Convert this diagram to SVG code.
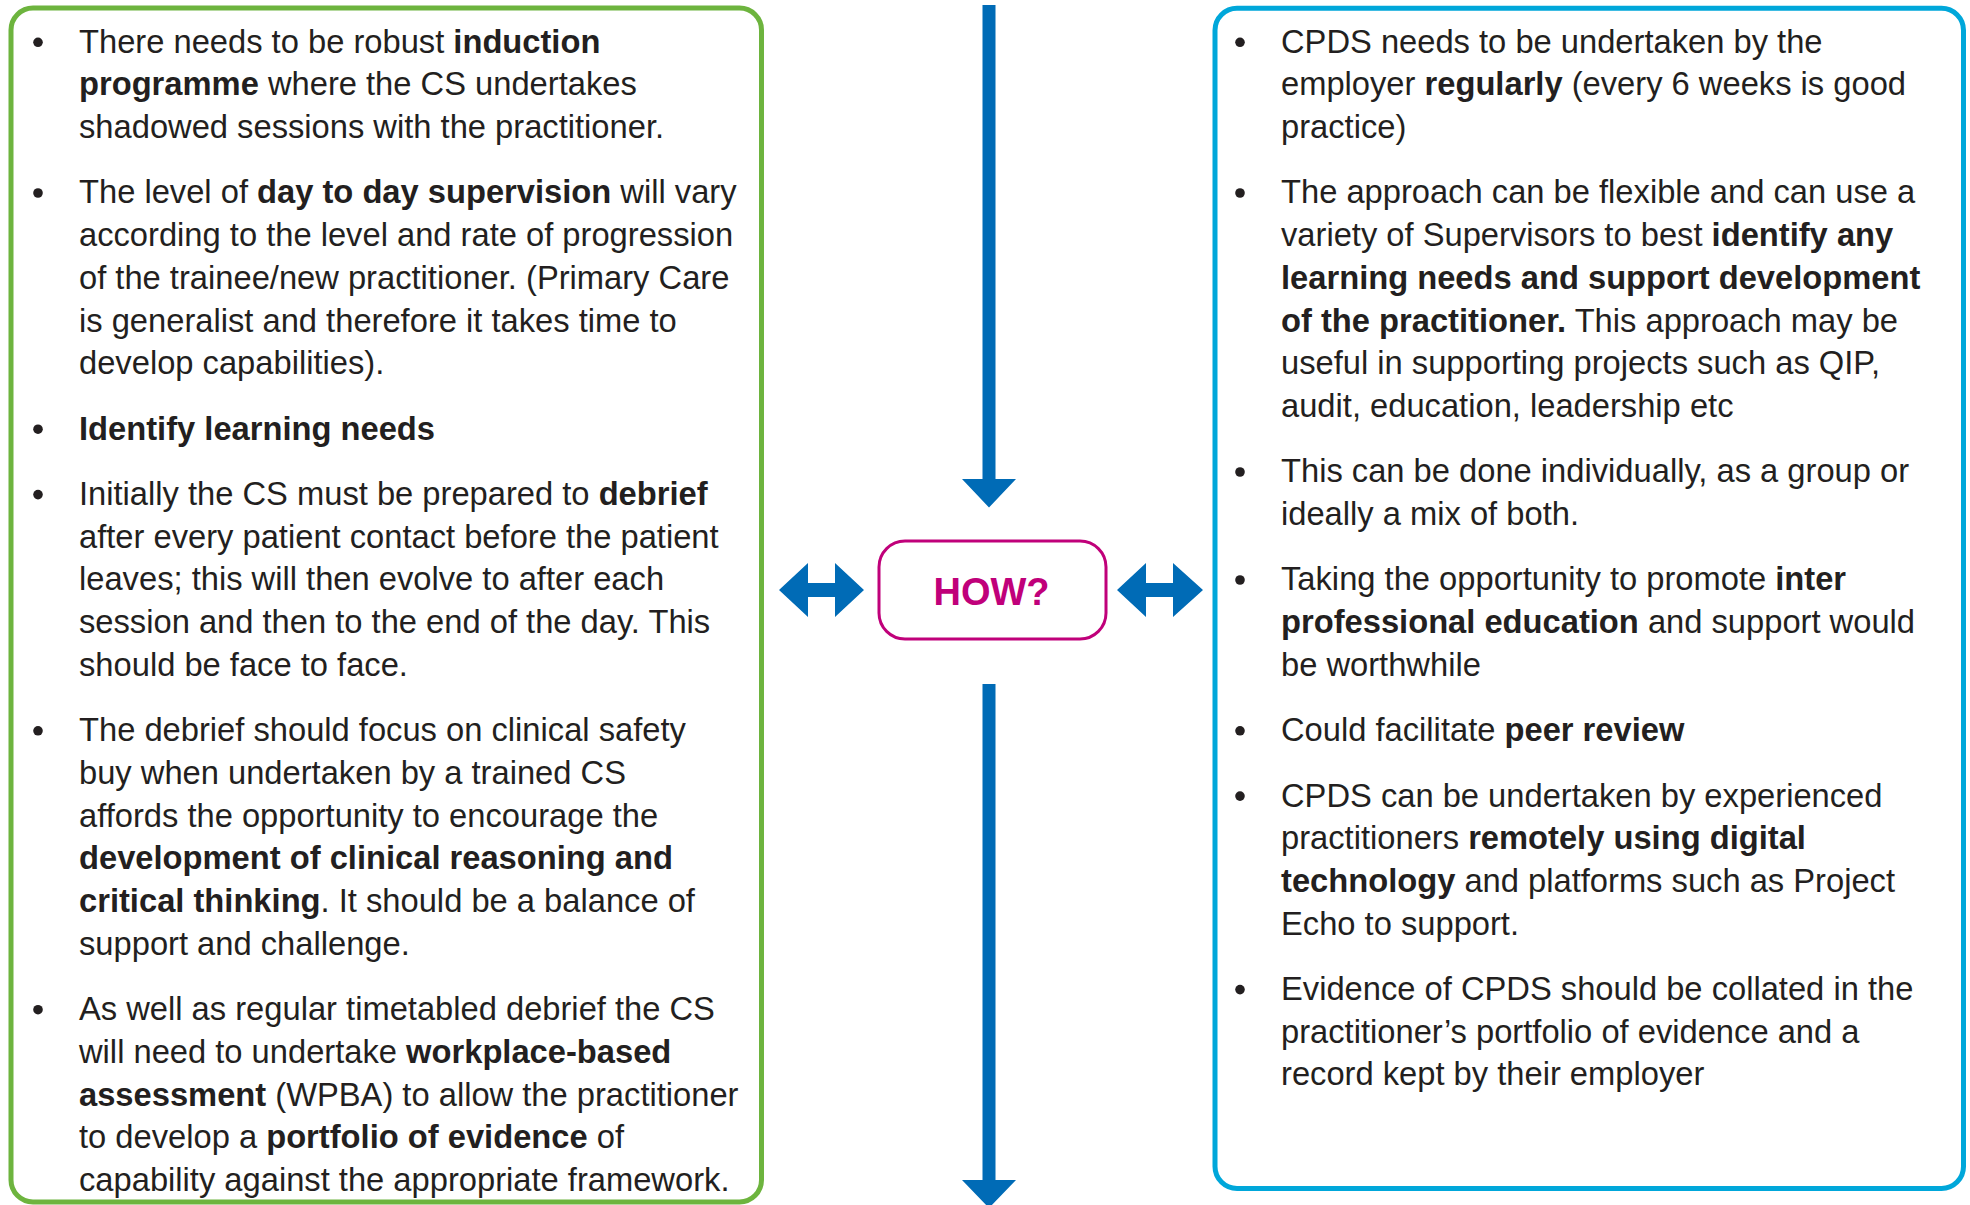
<svg xmlns="http://www.w3.org/2000/svg" width="1970" height="1205" viewBox="0 0 1970 1205">
<style>
.t{font-family:"Liberation Sans",Arial,sans-serif;font-size:32.7px;fill:#231F20}
.b{font-weight:bold}
.bul{fill:#231F20}
.arrow{fill:#006BB6}
</style>
<rect width="1970" height="1205" fill="#ffffff"/>
<g id="connectors">
<polygon class="arrow" points="982.5,5 995.5,5 995.5,479 1016,479 989,507.5 962,479 982.5,479"/>
<polygon class="arrow" points="982.5,684 995.5,684 995.5,1180 1016,1180 989,1208 962,1180 982.5,1180"/>
<polygon class="arrow" points="779,590 808,563 808,583 835,583 835,563 864,590 835,617 835,597 808,597 808,617"/>
<polygon class="arrow" points="1117,590 1146,563 1146,583 1173,583 1173,563 1203,590 1173,617 1173,597 1146,597 1146,617"/>
</g>
<g id="how">
<rect x="879" y="541" width="227" height="98" rx="26" fill="#ffffff" stroke="#C0007A" stroke-width="3"/>
<text x="991.5" y="604.5" text-anchor="middle" style="font-family:'Liberation Sans',Arial,sans-serif;font-size:38px;font-weight:bold;fill:#C0007A">HOW?</text>
</g>
<g id="left-box">
<rect x="11" y="8" width="750.5" height="1194" rx="22" fill="none" stroke="#6DB43E" stroke-width="5"/>
<g class="bul">
<circle cx="38" cy="42.3" r="4.8"/>
<circle cx="38" cy="193" r="4.8"/>
<circle cx="38" cy="429.2" r="4.8"/>
<circle cx="38" cy="494.6" r="4.8"/>
<circle cx="38" cy="730.8" r="4.8"/>
<circle cx="38" cy="1009.7" r="4.8"/>
</g>
<text class="t" x="79" y="52.7">There needs to be robust <tspan class="b">induction</tspan></text>
<text class="t" x="79" y="95.4"><tspan class="b">programme</tspan> where the CS undertakes</text>
<text class="t" x="79" y="138.1">shadowed sessions with the practitioner.</text>
<text class="t" x="79" y="203.4">The level of <tspan class="b">day to day supervision</tspan> will vary</text>
<text class="t" x="79" y="246.1">according to the level and rate of progression</text>
<text class="t" x="79" y="288.8">of the trainee/new practitioner. (Primary Care</text>
<text class="t" x="79" y="331.6">is generalist and therefore it takes time to</text>
<text class="t" x="79" y="374.3">develop capabilities).</text>
<text class="t b" x="79" y="439.6">Identify learning needs</text>
<text class="t" x="79" y="505">Initially the CS must be prepared to <tspan class="b">debrief</tspan></text>
<text class="t" x="79" y="547.7">after every patient contact before the patient</text>
<text class="t" x="79" y="590.4">leaves; this will then evolve to after each</text>
<text class="t" x="79" y="633.1">session and then to the end of the day. This</text>
<text class="t" x="79" y="675.9">should be face to face.</text>
<text class="t" x="79" y="741.2">The debrief should focus on clinical safety</text>
<text class="t" x="79" y="783.9">buy when undertaken by a trained CS</text>
<text class="t" x="79" y="826.6">affords the opportunity to encourage the</text>
<text class="t b" x="79" y="869.4">development of clinical reasoning and</text>
<text class="t" x="79" y="912.1"><tspan class="b">critical thinking</tspan>. It should be a balance of</text>
<text class="t" x="79" y="954.8">support and challenge.</text>
<text class="t" x="79" y="1020.1">As well as regular timetabled debrief the CS</text>
<text class="t" x="79" y="1062.8">will need to undertake <tspan class="b">workplace-based</tspan></text>
<text class="t" x="79" y="1105.5"><tspan class="b">assessment</tspan> (WPBA) to allow the practitioner</text>
<text class="t" x="79" y="1148.3">to develop a <tspan class="b">portfolio of evidence</tspan> of</text>
<text class="t" x="79" y="1191">capability against the appropriate framework.</text>
</g>
<g id="right-box">
<rect x="1215" y="8.3" width="748.5" height="1180.2" rx="22" fill="none" stroke="#00A7DA" stroke-width="5"/>
<g class="bul">
<circle cx="1240" cy="42.3" r="4.8"/>
<circle cx="1240" cy="193" r="4.8"/>
<circle cx="1240" cy="472" r="4.8"/>
<circle cx="1240" cy="580" r="4.8"/>
<circle cx="1240" cy="730.8" r="4.8"/>
<circle cx="1240" cy="796.1" r="4.8"/>
<circle cx="1240" cy="989.6" r="4.8"/>
</g>
<text class="t" x="1281" y="52.7">CPDS needs to be undertaken by the</text>
<text class="t" x="1281" y="95.4">employer <tspan class="b">regularly</tspan> (every 6 weeks is good</text>
<text class="t" x="1281" y="138.1">practice)</text>
<text class="t" x="1281" y="203.4">The approach can be flexible and can use a</text>
<text class="t" x="1281" y="246.1">variety of Supervisors to best <tspan class="b">identify any</tspan></text>
<text class="t b" x="1281" y="288.8">learning needs and support development</text>
<text class="t" x="1281" y="331.6"><tspan class="b">of the practitioner.</tspan> This approach may be</text>
<text class="t" x="1281" y="374.3">useful in supporting projects such as QIP,</text>
<text class="t" x="1281" y="417">audit, education, leadership etc</text>
<text class="t" x="1281" y="482.4">This can be done individually, as a group or</text>
<text class="t" x="1281" y="525.1">ideally a mix of both.</text>
<text class="t" x="1281" y="590.4">Taking the opportunity to promote <tspan class="b">inter</tspan></text>
<text class="t" x="1281" y="633.1"><tspan class="b">professional education</tspan> and support would</text>
<text class="t" x="1281" y="675.9">be worthwhile</text>
<text class="t" x="1281" y="741.2">Could facilitate <tspan class="b">peer review</tspan></text>
<text class="t" x="1281" y="806.5">CPDS can be undertaken by experienced</text>
<text class="t" x="1281" y="849.2">practitioners <tspan class="b">remotely using digital</tspan></text>
<text class="t" x="1281" y="891.9"><tspan class="b">technology</tspan> and platforms such as Project</text>
<text class="t" x="1281" y="934.7">Echo to support.</text>
<text class="t" x="1281" y="1000">Evidence of CPDS should be collated in the</text>
<text class="t" x="1281" y="1042.7">practitioner’s portfolio of evidence and a</text>
<text class="t" x="1281" y="1085.4">record kept by their employer</text>
</g>
</svg>
